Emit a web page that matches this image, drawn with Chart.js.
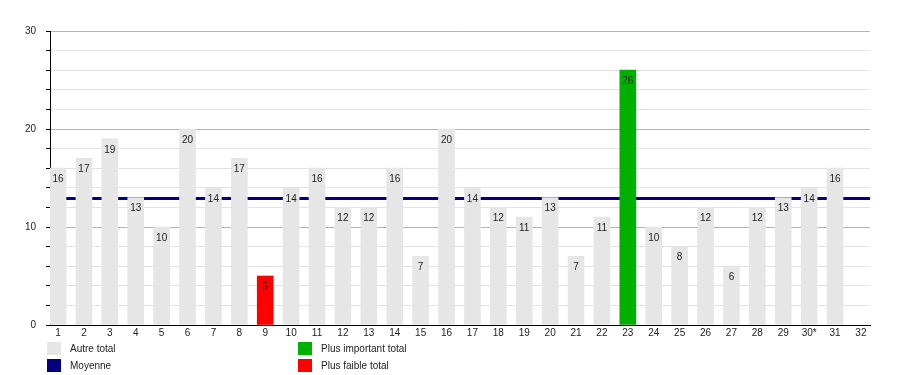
<!DOCTYPE html>
<html>
<head>
<meta charset="utf-8">
<script src="https://cdn.jsdelivr.net/npm/chart.js@4/dist/chart.umd.min.js"></script>
<style>
  html, body { margin: 0; padding: 0; background: #fff; }
</style>
</head>
<body>
<canvas id="totaux" width="900" height="375"></canvas>
<script>
const jours = ['1','2','3','4','5','6','7','8','9','10','11','12','13','14','15','16',
  '17','18','19','20','21','22','23','24','25','26','27','28','29','30*','31','32'];
const totaux = [16, 17, 19, 13, 10, 20, 14, 17, 5, 14, 16, 12, 12, 16, 7, 20,
  14, 12, 11, 13, 7, 11, 26, 10, 8, 12, 6, 12, 13, 14, 16, null];
const moyenne = 12.9;
const yTicks = [0, 10, 20, 30];

const legende = [
  { text: 'Autre total', color: '#e6e6e6' },
  { text: 'Moyenne', color: '#000080' },
  { text: 'Plus important total', color: '#00b000' },
  { text: 'Plus faible total', color: '#ff0000' }
];

const FONT = '"Liberation Sans", Arial, sans-serif';
Chart.defaults.font.family = FONT;
Chart.defaults.font.size = 10;
Chart.defaults.color = '#222';

const vals = totaux.filter(v => v !== null);
const maxVal = Math.max(...vals);
const minVal = Math.min(...vals);
const barColors = totaux.map(v => v === maxVal ? '#00b000' : (v === minVal ? '#ff0000' : '#e6e6e6'));

const xMin = 0.69;
const xMax = 32.35;

// value printed inside the top of each bar
const valueLabels = {
  id: 'valueLabels',
  afterDatasetsDraw(chart) {
    const meta = chart.getDatasetMeta(0);
    const ctx = chart.ctx;
    ctx.save();
    ctx.font = '10px ' + FONT;
    ctx.fillStyle = '#222';
    ctx.textAlign = 'center';
    ctx.textBaseline = 'middle';
    meta.data.forEach((bar, i) => {
      if (totaux[i] === null) return;
      ctx.fillText(String(totaux[i]), bar.x, bar.y + 11);
    });
    ctx.restore();
  }
};

// two column legend under the axis
const legendBox = {
  id: 'legendBox',
  afterDraw(chart) {
    const ctx = chart.ctx;
    ctx.save();
    ctx.font = '10px ' + FONT;
    ctx.textBaseline = 'middle';
    legende.forEach((item, i) => {
      const col = Math.floor(i / 2);
      const row = i % 2;
      const x = 47 + col * 251;
      const y = 342 + row * 17;
      ctx.fillStyle = item.color;
      ctx.fillRect(x, y, 14, 13);
      ctx.fillStyle = '#222';
      ctx.fillText(item.text, x + 23, y + 7);
    });
    ctx.restore();
  }
};

new Chart(document.getElementById('totaux'), {
  type: 'bar',
  data: {
    datasets: [{
      type: 'bar',
      label: 'Total',
      data: totaux.map((v, i) => ({ x: i + 1, y: v })),
      backgroundColor: barColors,
      barThickness: 16,
      order: 1
    }, {
      type: 'line',
      label: 'Moyenne',
      data: [{ x: xMin, y: moyenne }, { x: xMax, y: moyenne }],
      borderColor: '#000080',
      borderWidth: 3,
      pointRadius: 0,
      order: 2
    }]
  },
  options: {
    responsive: false,
    animation: false,
    layout: { padding: { top: 31, right: 30, left: 0, bottom: 0 } },
    plugins: { legend: { display: false }, tooltip: { enabled: false } },
    scales: {
      x: {
        type: 'linear',
        min: xMin,
        max: xMax,
        offset: false,
        afterFit: (scale) => { scale.height = 50; },
        grid: { display: false, drawTicks: false, offset: false },
        border: { color: '#000', width: 1 },
        ticks: {
          stepSize: 1,
          includeBounds: false,
          autoSkip: false,
          maxRotation: 0,
          padding: 2,
          color: '#222',
          callback: (v) => Number.isInteger(v) ? jours[v - 1] : ''
        }
      },
      y: {
        min: 0,
        max: 30,
        afterFit: (scale) => { scale.width = 50; },
        border: { color: '#000', width: 1 },
        grid: {
          color: (c) => yTicks.includes(c.tick.value) ? '#b4b4b4' : '#e2e2e2',
          tickColor: '#000',
          tickLength: 4
        },
        ticks: {
          stepSize: 2,
          padding: 10,
          color: '#222',
          callback: (v) => yTicks.includes(v) ? String(v) : ''
        }
      }
    }
  },
  plugins: [valueLabels, legendBox]
});
</script>
</body>
</html>
